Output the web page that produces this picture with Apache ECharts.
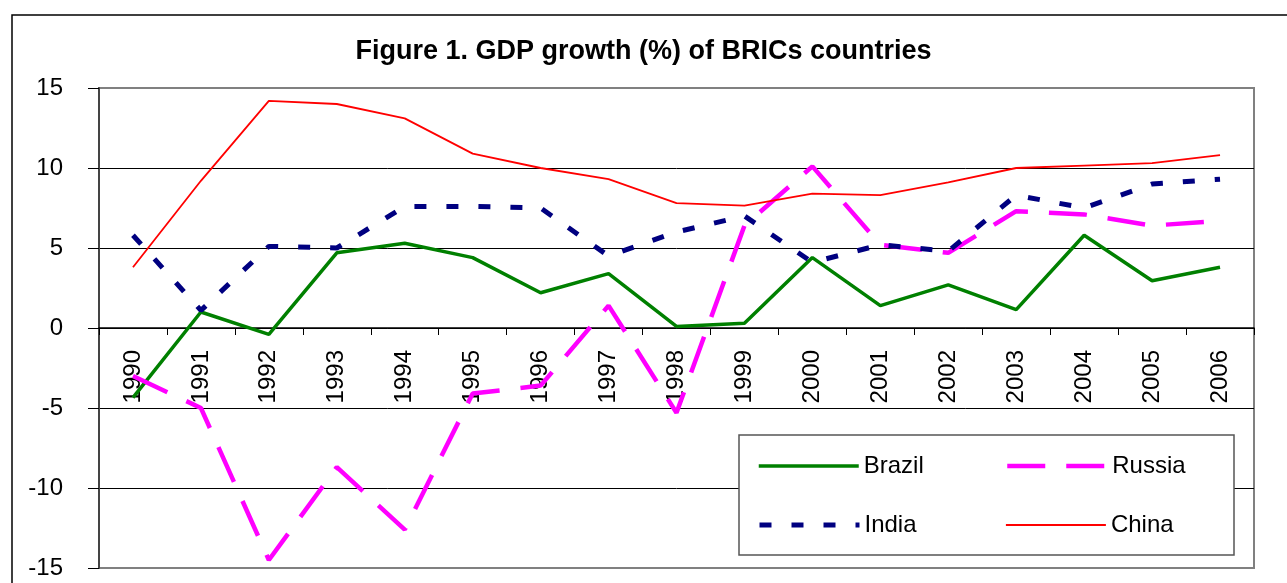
<!DOCTYPE html>
<html>
<head>
<meta charset="utf-8">
<title>GDP growth of BRICs</title>
<script src="https://cdn.jsdelivr.net/npm/echarts@6/dist/echarts.min.js"></script>
<style>
html, body { margin: 0; padding: 0; background: #fff; }
#chart { width: 1287px; height: 583px; }
</style>
</head>
<body>
<div id="chart"></div>
<script>
// years on the x axis
var years = ['1990', '1991', '1992', '1993', '1994', '1995', '1996', '1997', '1998',
  '1999', '2000', '2001', '2002', '2003', '2004', '2005', '2006'];
// GDP growth, %
var brazil = [-4.35, 1.0, -0.4, 4.7, 5.3, 4.4, 2.2, 3.4, 0.1, 0.3, 4.4, 1.4, 2.7, 1.15, 5.8, 2.95, 3.8];
var russia = [-3.0, -5.0, -14.5, -8.7, -12.6, -4.1, -3.6, 1.4, -5.3, 6.4, 10.1, 5.2, 4.7, 7.3, 7.1, 6.4, 6.7];
var india = [5.8, 1.1, 5.1, 5.0, 7.6, 7.6, 7.5, 4.5, 6.0, 7.0, 4.1, 5.2, 4.8, 8.3, 7.5, 9.0, 9.3];
var china = [3.8, 9.2, 14.2, 14.0, 13.1, 10.9, 10.0, 9.3, 7.8, 7.65, 8.4, 8.3, 9.1, 10.0, 10.15, 10.3, 10.8];

var font = 'Liberation Sans, Arial, sans-serif';

var myChart = echarts.init(document.getElementById('chart'));

function legendItem(name, left, top, lineWidth) {
  return {
    data: [name],
    left: left,
    top: top,
    padding: 0,
    itemWidth: 100,
    itemHeight: 14,
    selectedMode: false,
    // hide the round marker, keep only the line sample
    itemStyle: { opacity: 0 },
    lineStyle: { width: lineWidth },
    textStyle: { fontFamily: font, fontSize: 24, color: '#000' }
  };
}

var option = {
  animation: false,
  backgroundColor: '#fff',
  title: {
    text: 'Figure 1. GDP growth (%) of BRICs countries',
    left: 'center',
    top: 38,
    padding: [0, 0, 0, 28],
    textStyle: { fontFamily: font, fontSize: 27, fontWeight: 'bold', color: '#000' }
  },
  graphic: [
    {
      // outer frame of the figure
      type: 'rect',
      z: 1,
      shape: { x: 12, y: 15, width: 1300, height: 620 },
      style: { fill: null, stroke: '#000', lineWidth: 1.5 }
    },
    {
      // legend box
      type: 'rect',
      z: 3,
      shape: { x: 739, y: 435, width: 495, height: 120 },
      style: { fill: '#fff', stroke: '#555', lineWidth: 1.5 }
    }
  ],
  legend: [
    legendItem('Brazil', 757, 454, 3.5),
    legendItem('Russia', 1005, 454, 4.5),
    legendItem('India', 757, 513, 5),
    legendItem('China', 1005, 513, 1.8)
  ],
  grid: {
    left: 99,
    right: 33,
    top: 88,
    bottom: 15,
    containLabel: false,
    outerBoundsMode: 'none',
    show: true,
    borderColor: '#808080',
    borderWidth: 2
  },
  xAxis: {
    type: 'category',
    data: years,
    boundaryGap: true,
    // the axis sits on the zero line, 240px above the bottom of the plot
    offset: -240,
    axisLine: { onZero: false, lineStyle: { color: '#000', width: 1.5 } },
    axisTick: { show: true, length: 7, interval: 0, lineStyle: { color: '#000' } },
    axisLabel: { rotate: 90, margin: 22, interval: 0, fontFamily: font, fontSize: 24, color: '#000' },
    splitLine: { show: false }
  },
  yAxis: {
    type: 'value',
    min: -15,
    max: 15,
    interval: 5,
    axisLine: { show: true, lineStyle: { color: '#444', width: 2 } },
    axisTick: { show: true, length: 11, lineStyle: { color: '#000' } },
    axisLabel: { margin: 36, fontFamily: font, fontSize: 24, color: '#000' },
    splitLine: {
      show: true,
      lineStyle: { color: ['#808080', '#000', '#000', '#000', '#000', '#000', '#808080'], width: 1 }
    }
  },
  series: [
    {
      name: 'Brazil',
      type: 'line',
      data: brazil,
      symbol: 'none',
      color: '#008000',
      lineStyle: { color: '#008000', width: 3.5 }
    },
    {
      name: 'Russia',
      type: 'line',
      data: russia,
      symbol: 'none',
      color: '#ff00ff',
      lineStyle: { color: '#ff00ff', width: 4.5, type: [38, 21] }
    },
    {
      name: 'India',
      type: 'line',
      data: india,
      symbol: 'none',
      color: '#000080',
      lineStyle: { color: '#000080', width: 5, type: [12, 20] }
    },
    {
      name: 'China',
      type: 'line',
      data: china,
      symbol: 'none',
      color: '#ff0000',
      lineStyle: { color: '#ff0000', width: 1.8 }
    }
  ]
};

myChart.setOption(option);
</script>
</body>
</html>
